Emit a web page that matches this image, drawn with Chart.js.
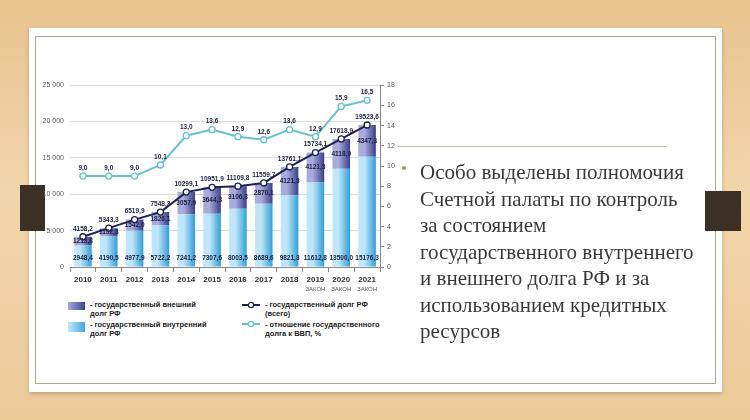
<!DOCTYPE html>
<html lang="ru">
<head>
<meta charset="UTF-8">
<title>Государственный долг РФ</title>
<script src="https://cdn.jsdelivr.net/npm/chart.js"></script>
<style>
  body {
    margin: 0;
    width: 750px;
    height: 420px;
    overflow: hidden;
    position: relative;
    background: linear-gradient(180deg, #e8c38e 0%, #f1d6ab 45%, #eccb99 100%);
    font-family: "Liberation Sans", Arial, sans-serif;
  }
  #panel {
    position: absolute; left: 29px; top: 28px; width: 693px; height: 364px;
    background: #fff; box-shadow: 0 2px 4px rgba(120, 90, 50, 0.35);
  }
  #frame {
    position: absolute; left: 35px; top: 36px; width: 679px; height: 346px;
    border: 1px solid #a3ae8c;
  }
  .tab { position: absolute; background: #3b2f26; }
  #chartBox { position: absolute; left: 30px; top: 75px; width: 372px; height: 225px; }
  .lg { position: absolute; font-weight: bold; font-size: 7.5px; line-height: 9px; color: #222; }
  .sw { position: absolute; width: 17px; height: 8px; }
  #rule { position: absolute; left: 398px; top: 146px; width: 269px; height: 1px; background: #cbc5a3; }
  #dot { position: absolute; left: 402px; top: 166px; width: 4px; height: 4px; border-radius: 2px; background: #8da563; }
  #txt {
    position: absolute; left: 420px; top: 159px;
    font-family: "Liberation Serif", "DejaVu Serif", serif;
    font-size: 21px; line-height: 26.5px; color: #3a3a3a;
  }
</style>
</head>
<body>
<div id="panel"></div>
<div id="frame"></div>
<div class="tab" style="left:20px; top:185px; width:25px; height:46px;"></div>
<div class="tab" style="left:705px; top:191px; width:36px; height:40px;"></div>

<div id="chartBox"><canvas id="chart"></canvas></div>

<!-- легенда -->
<div class="sw" style="left:68px; top:302px; background:linear-gradient(90deg,#a7a9db,#3f428f);"></div>
<div class="lg" style="left:90px; top:300px;">- государственный внешний<br>долг РФ</div>
<div class="sw" style="left:68px; top:322px; height:10px; background:linear-gradient(90deg,#c3e7f8,#3fa7de);"></div>
<div class="lg" style="left:90px; top:320px;">- государственный внутренний<br>долг РФ</div>
<svg style="position:absolute; left:240px; top:300px;" width="22" height="30">
  <line x1="2" y1="5" x2="20" y2="5" stroke="#1d2254" stroke-width="2"/>
  <circle cx="11" cy="5" r="2.6" fill="#fff" stroke="#1d2254" stroke-width="1.2"/>
  <line x1="2" y1="24" x2="20" y2="24" stroke="#62c3cb" stroke-width="2"/>
  <circle cx="11" cy="24" r="2.6" fill="#fff" stroke="#62c3cb" stroke-width="1.2"/>
</svg>
<div class="lg" style="left:265px; top:300px;">- государственный долг РФ<br>(всего)</div>
<div class="lg" style="left:265px; top:320px;">- отношение государственного<br>долга к ВВП, %</div>

<div id="rule"></div>
<div id="dot"></div>
<div id="txt">Особо выделены полномочия<br>Счетной палаты по контроль<br>за состоянием<br>государственного внутреннего<br>и внешнего долга РФ и за<br>использованием кредитных<br>ресурсов</div>

<script>
  // данные, млрд руб.
  const years = ['2010', '2011', '2012', '2013', '2014', '2015', '2016', '2017', '2018', '2019', '2020', '2021'];
  const yearNotes = ['', '', '', '', '', '', '', '', '', 'ЗАКОН', 'ЗАКОН', 'ЗАКОН'];
  const internalDebt = [2948.4, 4190.5, 4977.9, 5722.2, 7241.2, 7307.6, 8003.5, 8689.6, 9821.3, 11612.8, 13500.0, 15176.3];
  const externalDebt = [1209.8, 1152.8, 1542.0, 1826.1, 3057.9, 3644.3, 3106.3, 2870.1, 3939.8, 4121.3, 4118.9, 4347.3];
  const externalText = [1213.8, 1152.8, 1542.0, 1826.1, 3057.9, 3644.3, 3106.3, 2870.1, 4121.3, 4121.3, 4118.9, 4347.3];
  const totalDebt = [4158.2, 5343.3, 6519.9, 7548.3, 10299.1, 10951.9, 11109.8, 11559.7, 13761.1, 15734.1, 17618.9, 19523.6];
  const debtToGdp = [9.0, 9.0, 9.0, 10.1, 13.0, 13.6, 12.9, 12.6, 13.6, 12.9, 15.9, 16.5];

  const BAR_PCT = 0.68;

  function fmt(v) { return v.toFixed(1).replace('.', ','); }

  // горизонтальный градиент для каждого столбца
  function barGrad(light, dark) {
    return function (c) {
      const xs = c.chart.scales.x;
      if (!xs || c.dataIndex === undefined || !xs.width) return dark;
      const cx = xs.getPixelForValue(c.dataIndex);
      const half = xs.width / years.length * BAR_PCT / 2;
      const g = c.chart.ctx.createLinearGradient(cx - half, 0, cx + half, 0);
      g.addColorStop(0, light);
      g.addColorStop(0.35, light);
      g.addColorStop(1, dark);
      return g;
    };
  }

  const valueLabels = {
    id: 'valueLabels',
    afterDatasetsDraw(chart) {
      const ctx = chart.ctx;
      const yL = chart.scales.y;
      const mInt = chart.getDatasetMeta(0);
      const mTot = chart.getDatasetMeta(2);
      const mGdp = chart.getDatasetMeta(3);
      ctx.save();
      ctx.font = 'bold 6.5px "Liberation Sans", Arial, sans-serif';
      ctx.textAlign = 'center';
      ctx.textBaseline = 'middle';
      ctx.fillStyle = '#1d2040';
      years.forEach((_, i) => {
        const x = mInt.data[i].x;
        ctx.fillText(fmt(internalDebt[i]), x, yL.bottom - 9);
        const yMid = (yL.getPixelForValue(internalDebt[i]) + yL.getPixelForValue(totalDebt[i])) / 2;
        ctx.fillText(fmt(externalText[i]), x, yMid);
        ctx.fillText(fmt(totalDebt[i]), mTot.data[i].x, mTot.data[i].y - 8);
        ctx.fillText(fmt(debtToGdp[i]), mGdp.data[i].x, mGdp.data[i].y - 8);
      });
      // подпись «ЗАКОН» под годами
      ctx.font = '6px "Liberation Sans", Arial, sans-serif';
      ctx.fillStyle = '#555';
      years.forEach((_, i) => {
        if (yearNotes[i]) ctx.fillText(yearNotes[i], mInt.data[i].x, yL.bottom + 22);
      });
      ctx.restore();
    }
  };

  new Chart(document.getElementById('chart'), {
    type: 'bar',
    data: {
      labels: years,
      datasets: [
        {
          label: 'государственный внутренний долг РФ',
          data: internalDebt,
          backgroundColor: barGrad('#bfe6f8', '#2f9fda'),
          stack: 'debt',
          order: 2,
          yAxisID: 'y'
        },
        {
          label: 'государственный внешний долг РФ',
          data: externalDebt,
          backgroundColor: barGrad('#a9abdc', '#3b3e8c'),
          stack: 'debt',
          order: 2,
          yAxisID: 'y'
        },
        {
          type: 'line',
          label: 'государственный долг РФ (всего)',
          data: totalDebt,
          borderColor: '#1d2254',
          borderWidth: 2,
          pointRadius: 3,
          pointBorderWidth: 1.3,
          pointBackgroundColor: '#fff',
          pointBorderColor: '#1d2254',
          tension: 0,
          order: 1,
          yAxisID: 'y'
        },
        {
          type: 'line',
          label: 'отношение государственного долга к ВВП, %',
          data: debtToGdp,
          borderColor: '#62c3cb',
          borderWidth: 2,
          pointRadius: 3,
          pointBorderWidth: 1.3,
          pointBackgroundColor: '#fff',
          pointBorderColor: '#62c3cb',
          tension: 0,
          order: 0,
          yAxisID: 'y1'
        }
      ]
    },
    options: {
      responsive: true,
      maintainAspectRatio: false,
      animation: false,
      layout: { padding: { top: 10, left: 0, right: 0, bottom: 0 } },
      datasets: { bar: { barPercentage: BAR_PCT, categoryPercentage: 1 } },
      plugins: { legend: { display: false }, tooltip: { enabled: false } },
      scales: {
        x: {
          stacked: true,
          grid: { drawOnChartArea: false, drawTicks: true, tickLength: 5, color: '#888' },
          border: { display: true, color: '#888' },
          ticks: { color: '#333', font: { size: 8, weight: 'bold' }, padding: 3, maxRotation: 0, autoSkip: false },
          afterFit(s) { s.height = 33; }
        },
        y: {
          stacked: true,
          min: 0,
          max: 25000,
          ticks: {
            stepSize: 5000,
            color: '#555',
            font: { size: 7 },
            padding: 6,
            callback: v => v === 0 ? '0' : (v / 1000) + ' 000'
          },
          grid: { color: '#dcdcdc', drawTicks: false },
          border: { display: false },
          afterFit(s) { s.width = 40; }
        },
        y1: {
          position: 'right',
          min: 0,
          max: 18,
          ticks: { stepSize: 2, color: '#555', font: { size: 7 }, padding: 3 },
          grid: { drawOnChartArea: false, drawTicks: true, tickLength: 4, color: '#888' },
          border: { display: true, color: '#888' },
          afterFit(s) { s.width = 22; }
        }
      }
    },
    plugins: [valueLabels]
  });
</script>
</body>
</html>
